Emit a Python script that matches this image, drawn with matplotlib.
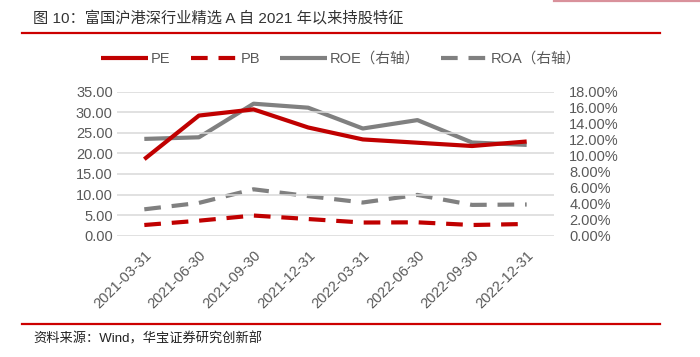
import numpy as np
import matplotlib.pyplot as plt
from matplotlib.lines import Line2D

plt.rcParams['font.family'] = ['Liberation Sans', 'Noto Sans CJK SC']

dates = ['2021-03-31', '2021-06-30', '2021-09-30', '2021-12-31',
         '2022-03-31', '2022-06-30', '2022-09-30', '2022-12-31']
pe = [18.6, 29.2, 30.7, 26.3, 23.4, 22.6, 21.8, 22.9]
pb = [2.6, 3.65, 4.9, 4.05, 3.2, 3.25, 2.6, 2.85]
roe = [12.1, 12.3, 16.5, 16.0, 13.4, 14.45, 11.65, 11.35]   # %
roa = [3.3, 4.1, 5.8, 4.95, 4.15, 5.1, 3.85, 3.9]           # %

red = '#C00000'
gray = '#808080'
txt = '#595959'

fig = plt.figure(figsize=(7, 3.57), dpi=100)
ax = fig.add_axes([117/700, 1-235.7/357, (554-117)/700, (235.7-91.7)/357])
ax2 = ax.twinx()

x = np.arange(len(dates))
lw = 3.0
ax.plot(x, pe, color=red, lw=lw, solid_capstyle='butt', zorder=3)
ax.plot(x, pb, color=red, lw=lw, dashes=(4, 2.6), zorder=3)
ax2.plot(x, np.array(roe) / 100, color=gray, lw=lw, solid_capstyle='butt')
ax2.plot(x, np.array(roa) / 100, color=gray, lw=lw, dashes=(4, 2.6))
ax.set_zorder(2)
ax.patch.set_visible(False)

ax.set_xlim(-0.5, 7.5)
ax.set_ylim(0, 35)
ax.set_yticks(np.arange(0, 36, 5))
ax.set_yticklabels(['%.2f' % v for v in np.arange(0, 36, 5)])
ax2.set_ylim(0, 0.18)
ax2.set_yticks(np.arange(0, 0.181, 0.02))
ax2.set_yticklabels(['%.2f%%' % (v * 100) for v in np.arange(0, 0.181, 0.02)])
ax.grid(axis='y', color='#d9d9d9', lw=1.1)
ax.set_axisbelow(True)

ax.set_xticks(x)
ax.set_xticklabels(dates, rotation=45, ha='right', rotation_mode='anchor')
for a in (ax, ax2):
    for s in a.spines.values():
        s.set_visible(False)
ax.tick_params(axis='y', length=0, pad=3, labelsize=10.5, labelcolor=txt)
ax.tick_params(axis='x', length=0, pad=9, labelsize=10.5, labelcolor=txt)
ax2.tick_params(axis='y', length=0, pad=11, labelsize=10.5, labelcolor=txt)

handles = [Line2D([], [], color=red, lw=lw, solid_capstyle='butt'),
           Line2D([], [], color=red, lw=lw, dashes=(4, 2.6)),
           Line2D([], [], color=gray, lw=lw, solid_capstyle='butt'),
           Line2D([], [], color=gray, lw=lw, dashes=(4, 2.6))]
labels = ['PE', 'PB', 'ROE（右轴）', 'ROA（右轴）']
leg = fig.legend(handles, labels, loc='center', bbox_to_anchor=(341/700, 1-59/357),
                 ncol=4, frameon=False, fontsize=10.5, handlelength=3.2,
                 handletextpad=0.2, columnspacing=1.4)
for t in leg.get_texts():
    t.set_color(txt)

fig.text(33/700, 1-18/357, '图 10：富国沪港深行业精选 A 自 2021 年以来持股特征',
         fontsize=11, color='#333333', va='center')
fig.text(33/700, 1-339/357, '资料来源：Wind，华宝证券研究创新部',
         fontsize=9.5, color='#222222', va='center')
fig.add_artist(Line2D([22/700, 660/700], [1-33/357, 1-33/357], color='#CC0000', lw=1.6))
fig.add_artist(Line2D([22/700, 660/700], [1-324/357, 1-324/357], color='#CC0000', lw=1.6))
fig.add_artist(Line2D([554/700, 1], [1-0.8/357, 1-0.8/357], color='#D9919B', lw=1.6))

fig.savefig('out.png', dpi=100)
